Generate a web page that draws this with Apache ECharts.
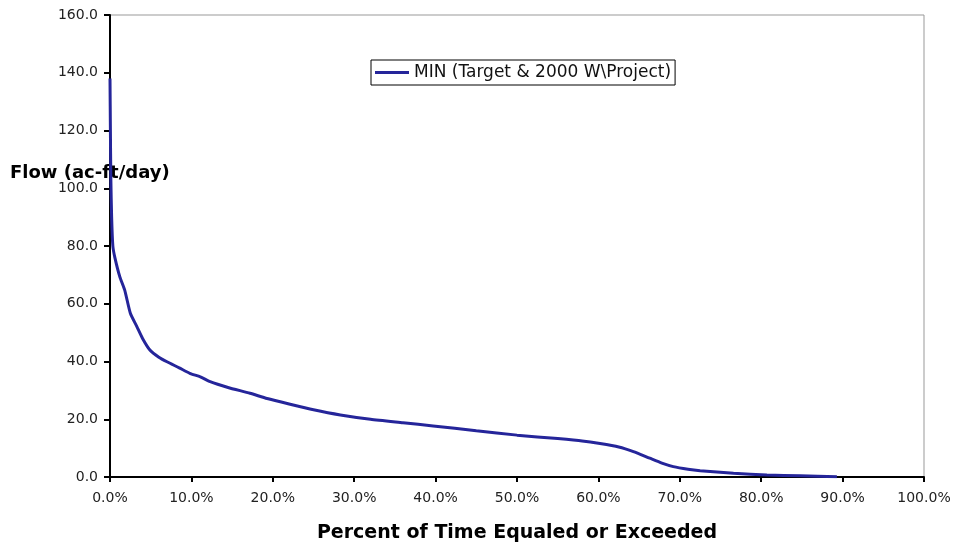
<!DOCTYPE html>
<html>
<head>
<meta charset="utf-8">
<script src="https://cdn.jsdelivr.net/npm/echarts@6/dist/echarts.min.js"></script>
<style>
html,body{margin:0;padding:0;background:#fff;}
#main{width:965px;height:548px;}
</style>
</head>
<body>
<div id="main"></div>
<script>
// Data
var seriesName = 'MIN (Target & 2000 W\\Project)';
var pct  = [0, 0.05, 0.1, 0.2, 0.35, 0.6, 1.2, 1.8, 2.5, 3.3, 4.0, 4.9, 6.0, 7.0, 8.5, 9.8, 11.1, 12.3, 14.5, 17.2, 19.3, 22, 25, 28.3, 32, 36, 39.7, 45, 50, 55, 58, 60.2, 62.5, 64.3, 66.3, 67.8, 69.2, 71, 72.5, 76.6, 80.7, 84.8, 89.3];
var flow = [138, 120, 104, 90, 80, 76, 69.4, 64.8, 56.7, 52.1, 48, 44, 41.5, 39.9, 37.8, 35.9, 34.7, 33.0, 31, 29.0, 27.2, 25.3, 23.3, 21.5, 20.0, 18.8, 17.7, 16.0, 14.5, 13.3, 12.5, 11.6, 10.4, 8.8, 6.5, 4.8, 3.6, 2.7, 2.2, 1.3, 0.7, 0.4, 0.1];
var xTitle = 'Percent of Time Equaled or Exceeded';
var yTitle = 'Flow (ac-ft/day)';

var pts = pct.map(function(p, i){ return [p, flow[i]]; });
var font = '"DejaVu Sans", Verdana, sans-serif';

var chart = echarts.init(document.getElementById('main'), null, {renderer:'canvas'});
chart.setOption({
  animation: false,
  backgroundColor: '#fff',
  grid: {left:110, right:41, top:15, bottom:71, show:true, borderColor:'#999', borderWidth:1, backgroundColor:'transparent'},
  legend: {
    show: true,
    left: 371, top: 60,
    orient: 'horizontal',
    backgroundColor: '#fff',
    borderColor: '#000', borderWidth: 1, borderRadius: 0,
    padding: [4, 4, 4, 4],
    itemWidth: 34, itemHeight: 3, itemGap: 4,
    icon: 'rect',
    textStyle: {fontFamily: font, fontSize: 17, color: '#111'},
    data: [seriesName]
  },
  xAxis: {
    type: 'value', min: 0, max: 100, interval: 10,
    name: xTitle, nameLocation: 'middle', nameGap: 47,
    nameTextStyle: {fontFamily: font, fontSize: 19, fontWeight: 'bold', color: '#000'},
    axisLine: {show: true, lineStyle: {color: '#000', width: 2}},
    axisTick: {show: true, length: 5, inside: false, lineStyle: {color: '#000', width: 2}},
    axisLabel: {margin: 14, fontFamily: font, fontSize: 14, color: '#222',
      formatter: function(v){ return v.toFixed(1) + '%'; }},
    splitLine: {show: false}
  },
  yAxis: {
    type: 'value', min: 0, max: 160, interval: 20,
    axisLine: {show: true, lineStyle: {color: '#000', width: 2}},
    axisTick: {show: true, length: 6, inside: false, lineStyle: {color: '#000', width: 2}},
    axisLabel: {margin: 12, fontFamily: font, fontSize: 14, color: '#222',
      formatter: function(v){ return v.toFixed(1); }},
    splitLine: {show: false}
  },
  graphic: [{
    type: 'text', left: 10, top: 164, z: 1,
    style: {text: yTitle, fontFamily: font, fontSize: 18, fontWeight: 'bold', fill: '#000'}
  }],
  series: [{
    name: seriesName,
    type: 'line',
    data: pts,
    smooth: 0.2,
    showSymbol: false,
    symbol: 'none',
    z: 3,
    lineStyle: {color: '#25259a', width: 3},
    itemStyle: {color: '#25259a'}
  }]
});
</script>
</body>
</html>
